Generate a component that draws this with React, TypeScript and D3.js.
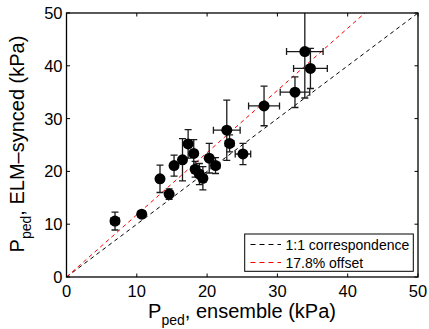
import React from "react";
import * as d3 from "d3";

const xVals = [6.9, 10.7, 13.3, 14.6, 15.3, 16.5, 17.3, 18.1, 18.3, 18.9, 19.4, 20.3, 21.2, 22.8, 23.2, 25.1, 28.1, 32.5, 33.9, 34.7];
const yVals = [10.6, 11.9, 18.6, 15.7, 21.1, 22.2, 25.2, 23.4, 20.4, 19.5, 18.7, 22.5, 21.1, 27.8, 25.3, 23.3, 32.4, 35.0, 42.7, 39.5];
const xErrs = [0.6, 0.5, 0.3, 0.4, 0.4, 0.3, 0.3, 0.3, 0.5, 0.5, 0.5, 0.4, 0.6, 1.9, 0.6, 1.1, 2.2, 2.1, 2.6, 2.4];
const yErrs = [1.7, 0.5, 2.6, 1.0, 2.0, 4.0, 2.7, 2.6, 1.5, 2.0, 2.2, 2.8, 1.5, 5.7, 1.6, 2.0, 3.75, 2.9, 8.8, 3.8];
const xTicks = [0, 10, 20, 30, 40, 50];
const yTicks = [0, 10, 20, 30, 40, 50];
const offsetFactor = 1.178;
const legendLabels = ["1:1 correspondence", "17.8% offset"];
const legendColors = ["#000000", "#ff0000"];

const W = 429;
const H = 329;
const L = 66.5, R = 418, T = 13, B = 277;

export default function App() {
  const x = d3.scaleLinear().domain([0, 50]).range([L, R]);
  const y = d3.scaleLinear().domain([0, 50]).range([B, T]);
  const font = "'Liberation Sans', Arial, Helvetica, sans-serif";
  const tl = 3.5;
  const cap = 3.5;
  const line = d3.line<[number, number]>().x(d => x(d[0])).y(d => y(d[1]));
  const idLine: [number, number][] = [[0, 0], [50, 50]];
  const offLine: [number, number][] = [[0, 0], [50 / offsetFactor, 50]];
  const errColor = "#1a1a1a";

  return (
    <svg width={W} height={H} style={{ position: "absolute", left: 0, top: 0 }} fontFamily={font}>
      <rect x={0} y={0} width={W} height={H} fill="#fff" />
      <defs>
        <clipPath id="plotclip">
          <rect x={L} y={T} width={R - L} height={B - T} />
        </clipPath>
      </defs>
      <g clipPath="url(#plotclip)">
        <path d={line(idLine) || ""} stroke="#000" strokeWidth={1} strokeDasharray="4,3.5" fill="none" />
        <path d={line(offLine) || ""} stroke="#ff0000" strokeWidth={1} strokeDasharray="4,3.5" fill="none" />
        {xVals.map((xv, i) => {
          const yv = yVals[i];
          const cx = x(xv), cy = y(yv);
          const y0 = y(yv - yErrs[i]), y1 = y(yv + yErrs[i]);
          const x0 = x(xv - xErrs[i]), x1 = x(xv + xErrs[i]);
          return (
            <g key={i} stroke={errColor} strokeWidth={1.3}>
              <line x1={cx} x2={cx} y1={y0} y2={y1} />
              <line x1={cx - cap} x2={cx + cap} y1={y0} y2={y0} />
              <line x1={cx - cap} x2={cx + cap} y1={y1} y2={y1} />
              <line x1={x0} x2={x1} y1={cy} y2={cy} />
              <line x1={x0} x2={x0} y1={cy - cap} y2={cy + cap} />
              <line x1={x1} x2={x1} y1={cy - cap} y2={cy + cap} />
            </g>
          );
        })}
        {xVals.map((xv, i) => (
          <circle key={"c" + i} cx={x(xv)} cy={y(yVals[i])} r={5.5} fill="#000" />
        ))}
      </g>
      <rect x={L} y={T} width={R - L} height={B - T} fill="none" stroke="#000" strokeWidth={1.3} />
      {xTicks.map(t => (
        <g key={"xt" + t}>
          <line x1={x(t)} x2={x(t)} y1={B} y2={B - tl} stroke="#000" />
          <line x1={x(t)} x2={x(t)} y1={T} y2={T + tl} stroke="#000" />
          <text x={x(t)} y={297} fontSize={16.5} textAnchor="middle" fill="#000">{t}</text>
        </g>
      ))}
      {yTicks.map(t => (
        <g key={"yt" + t}>
          <line x1={L} x2={L + tl} y1={y(t)} y2={y(t)} stroke="#000" />
          <line x1={R} x2={R - tl} y1={y(t)} y2={y(t)} stroke="#000" />
          <text x={62.5} y={y(t) + 6} fontSize={16.5} textAnchor="end" fill="#000">{t}</text>
        </g>
      ))}
      <rect x={244.7} y={234} width={168.6} height={37.3} fill="#fff" stroke="#000" strokeWidth={1} />
      {legendLabels.map((lab, i) => (
        <g key={"lg" + i}>
          <line x1={250.5} x2={281} y1={244.5 + i * 18} y2={244.5 + i * 18} stroke={legendColors[i]} strokeWidth={1} strokeDasharray="5,4" />
          <text x={285.5} y={249.5 + i * 18} fontSize={14} fill="#000">{lab}</text>
        </g>
      ))}
      <text x={242} y={317.5} fontSize={20} textAnchor="middle" fill="#000">
        P<tspan fontSize={14} dy={7}>ped</tspan><tspan dy={-7}>, ensemble (kPa)</tspan>
      </text>
      <text transform={`translate(23.5,${144}) rotate(-90)`} fontSize={20} textAnchor="middle" fill="#000">
        P<tspan fontSize={14} dy={7}>ped</tspan><tspan dy={-7}>, ELM–synced (kPa)</tspan>
      </text>
    </svg>
  );
}
